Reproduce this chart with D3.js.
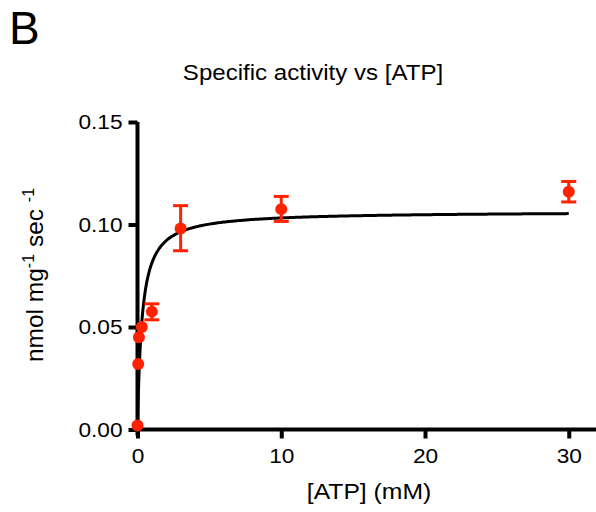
<!DOCTYPE html>
<html>
<head>
<meta charset="utf-8">
<script src="https://cdn.jsdelivr.net/npm/d3@7"></script>
<style>
  html, body { margin: 0; padding: 0; background: #fff; }
  svg { display: block; }
  text { font-family: "Liberation Sans", Arial, sans-serif; fill: #000; }
</style>
</head>
<body>
<svg id="chart" width="596" height="512"></svg>
<script>
// Measured specific activity at each ATP concentration (mean ± SEM)
const atpConc  = [0, 0.05, 0.1, 0.3, 1, 3, 10, 30];          // mM
const activity = [0.002, 0.032, 0.045, 0.050, 0.0575, 0.098, 0.1075, 0.116];
const errLow   = [0, 0, 0, 0, 0.0535, 0.0872, 0.1015, 0.111];
const errHigh  = [0, 0, 0, 0, 0.0613, 0.1092, 0.1137, 0.121];

// Michaelis–Menten fit parameters
const vmax = 0.1064;   // nmol mg^-1 sec^-1
const km   = 0.31;     // mM

const xTicks = [0, 10, 20, 30];
const yTicks = [0, 0.05, 0.10, 0.15];

const svg = d3.select("#chart");
const red = "#ff2200";
const wide = 1.12;     // horizontal stretch of the labels' typeface

const x = d3.scaleLinear().domain([0, 32]).range([137.5, 597.5]);
const y = d3.scaleLinear().domain([0, 0.15]).range([429.5, 122]);

// Panel letter and title
svg.append("text").attr("x", 9).attr("y", 44)
  .style("font-size", "46px").text("B");
svg.append("text")
  .attr("transform", `translate(313,80) scale(${wide},1)`)
  .attr("text-anchor", "middle").style("font-size", "21.5px")
  .text("Specific activity vs [ATP]");

// Axes
const xAxis = svg.append("g").attr("transform", `translate(0,${y(0)})`)
  .call(d3.axisBottom(x).tickValues(xTicks).tickSize(9).tickSizeOuter(0)
    .tickPadding(10).tickFormat(d3.format("d")));
const yAxis = svg.append("g").attr("transform", `translate(${x(0)},0)`)
  .call(d3.axisLeft(y).tickValues(yTicks).tickSize(9).tickSizeOuter(0)
    .tickPadding(6).tickFormat(d3.format(".2f")));

[xAxis, yAxis].forEach(g => {
  g.select(".domain").attr("stroke", "#000").attr("stroke-width", 4);
  g.selectAll(".tick line").attr("stroke", "#000").attr("stroke-width", 4);
  g.selectAll(".tick text").style("font-size", "21px")
    .style("font-family", "'Liberation Sans', Arial, sans-serif").attr("fill", "#000");
});
// widen tick labels about their anchor point
xAxis.selectAll(".tick text").attr("transform", `scale(1.08,1)`);
yAxis.selectAll(".tick text")
  .attr("x", -15 / 1.08).attr("transform", `scale(1.08,1)`);

// extend the vertical axis slightly below the origin
yAxis.select(".domain").attr("d", `M0,${y(0.15)}V${y(0) + 6}`);
xAxis.select(".domain").attr("d", `M${x(0) - 2}, 0H${x(32)}`);

// Axis titles
svg.append("text")
  .attr("transform", `translate(369,499) scale(1.15,1)`)
  .attr("text-anchor", "middle").style("font-size", "21.5px")
  .text("[ATP] (mM)");

const yl = svg.append("text")
  .attr("transform", "translate(43,275) rotate(-90)")
  .attr("text-anchor", "middle").style("font-size", "24.5px");
yl.append("tspan").text("nmol mg");
yl.append("tspan").attr("dy", -9).style("font-size", "16px").text("-1");
yl.append("tspan").attr("dy", 9).text(" sec ");
yl.append("tspan").attr("dy", -9).style("font-size", "16px").text("-1");

// Fitted curve, sampled densely near zero where it rises steeply
const fitPts = d3.range(0, 100).map(i => i * 0.01)
  .concat(d3.range(10, 301).map(i => i * 0.1));
const line = d3.line()
  .x(d => x(d))
  .y(d => y(vmax * d / (km + d)))
  .curve(d3.curveMonotoneX);
svg.append("path").datum(fitPts).attr("d", line)
  .attr("fill", "none").attr("stroke", "#000").attr("stroke-width", 3);

// Error bars
const data = atpConc.map((c, i) => ({ c, v: activity[i], lo: errLow[i], hi: errHigh[i] }));
const eb = svg.append("g").attr("stroke", red).attr("stroke-width", 3);
data.filter(d => d.hi > 0).forEach(d => {
  eb.append("line").attr("x1", x(d.c)).attr("x2", x(d.c)).attr("y1", y(d.lo)).attr("y2", y(d.hi));
  [d.lo, d.hi].forEach(v => eb.append("line")
    .attr("x1", x(d.c) - 7.5).attr("x2", x(d.c) + 7.5).attr("y1", y(v)).attr("y2", y(v)));
});

// Data points
svg.append("g").selectAll("circle").data(data).join("circle")
  .attr("cx", d => x(d.c)).attr("cy", d => y(d.v)).attr("r", 6).attr("fill", red);
</script>
</body>
</html>
